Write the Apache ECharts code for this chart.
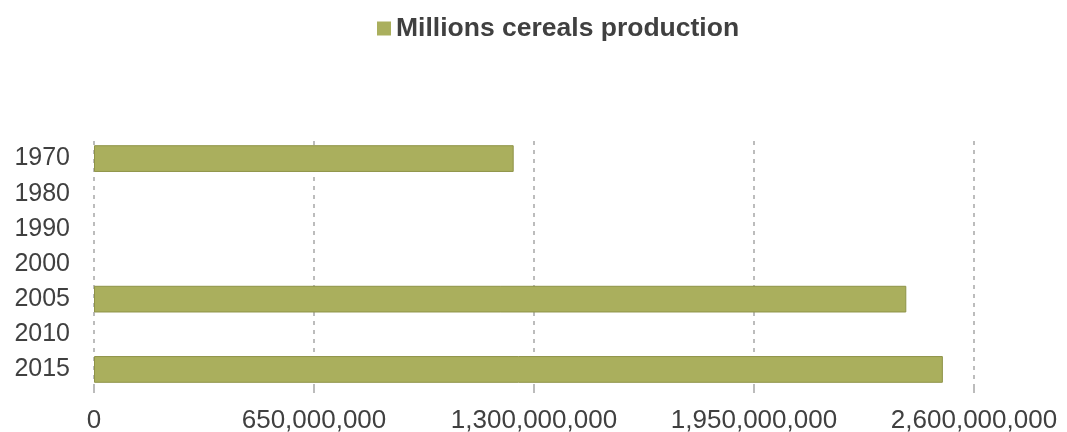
<!DOCTYPE html>
<html>
<head>
<meta charset="utf-8">
<style>
  html, body { margin: 0; padding: 0; background: #fff; }
  #chart { width: 1067px; height: 432px; }
</style>
<script src="https://cdn.jsdelivr.net/npm/echarts@6/dist/echarts.min.js"></script>
</head>
<body>
<div id="chart"></div>
<script>
// Cereal production by year (tonnes); years without a figure stay empty
const years = ['1970', '1980', '1990', '2000', '2005', '2010', '2015'];
const production = [1240000000, null, null, null, 2400000000, null, 2508000000];
const xTicks = { min: 0, max: 2600000000, step: 650000000 };
const seriesName = 'Millions cereals production';

const chart = echarts.init(document.getElementById('chart'), null, { renderer: 'canvas' });

chart.setOption({
  animation: false,
  textStyle: { fontFamily: 'Liberation Sans, Arial, sans-serif' },
  legend: {
    top: 10,
    left: 372,
    itemWidth: 14,
    itemHeight: 14,
    itemGap: 6,
    icon: 'rect',
    data: [seriesName],
    itemStyle: { borderWidth: 0 },
    textStyle: { fontSize: 26.5, fontWeight: 'bold', color: '#404040' }
  },
  grid: { left: 94, right: 93, top: 141, bottom: 45, containLabel: false, outerBoundsMode: 'none' },
  xAxis: {
    type: 'value',
    min: xTicks.min,
    max: xTicks.max,
    interval: xTicks.step,
    axisLine: { show: false },
    axisTick: { show: true, length: 6, lineStyle: { color: '#a6a6a6', width: 1.5 } },
    splitLine: { show: true, lineStyle: { type: [4, 5], color: '#a6a6a6', width: 1.5 } },
    axisLabel: {
      fontSize: 26,
      color: '#404040',
      margin: 21,
      formatter: v => v.toLocaleString('en-US')
    }
  },
  yAxis: {
    type: 'category',
    inverse: true,
    data: years,
    axisLine: { show: false },
    axisTick: { show: false },
    axisLabel: { fontSize: 25, color: '#404040', margin: 24, padding: [0, 0, 6, 0] }
  },
  series: [{
    name: seriesName,
    type: 'bar',
    data: production,
    barCategoryGap: '24%',
    itemStyle: { color: '#aaaf5d', borderColor: '#8e9347', borderWidth: 1 }
  }]
});
</script>
</body>
</html>
